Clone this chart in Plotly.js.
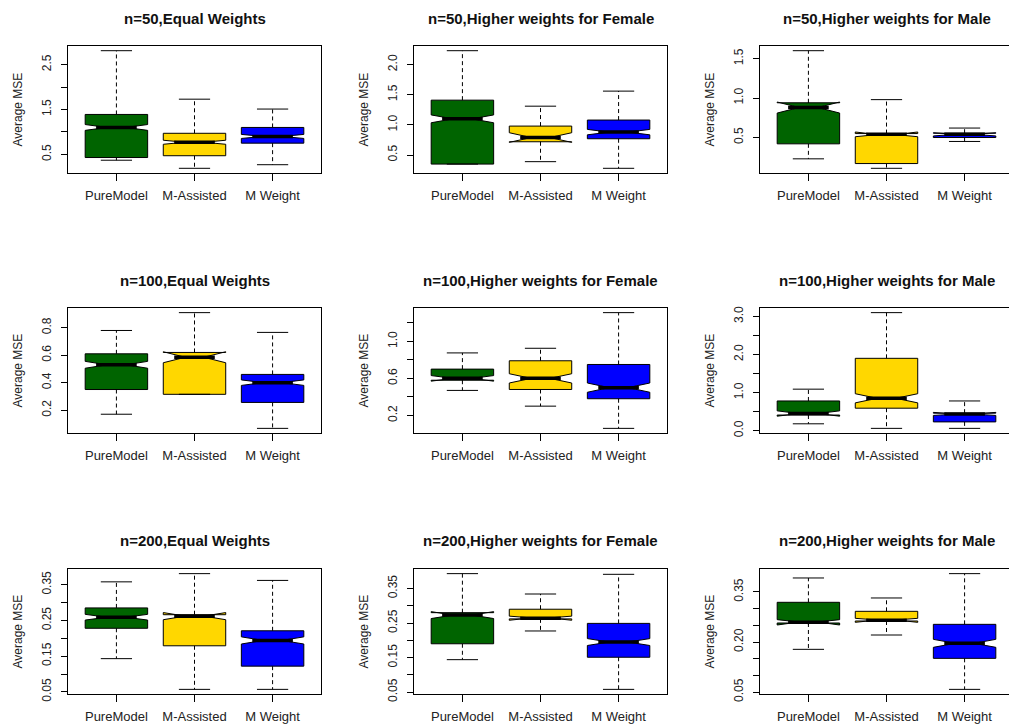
<!DOCTYPE html>
<html><head><meta charset="utf-8">
<script src="https://cdn.plot.ly/plotly-3.0.1.min.js"></script>
<style>html,body{margin:0;padding:0;overflow:hidden;background:#fff}#chart{width:1009px;height:726px}</style>
</head><body><div id="chart"></div>
<script>
// ---- data ----
const methods = ['PureModel', 'M-Assisted', 'M Weight'];
const panelTitles = [
  'n=50,Equal Weights', 'n=50,Higher weights for Female', 'n=50,Higher weights for Male',
  'n=100,Equal Weights', 'n=100,Higher weights for Female', 'n=100,Higher weights for Male',
  'n=200,Equal Weights', 'n=200,Higher weights for Female', 'n=200,Higher weights for Male'
];
const lowerW = [
  [0.37, 0.19, 0.27], [0.35, 0.39, 0.28], [0.23, 0.11, 0.45],
  [0.17, 0.315, 0.067], [0.47, 0.30, 0.06], [0.18, 0.06, 0.06],
  [0.143, 0.057, 0.057], [0.144, 0.227, 0.058], [0.178, 0.221, 0.058]
];
const q1s = [
  [0.43, 0.47, 0.75], [0.35, 0.72, 0.77], [0.42, 0.17, 0.50],
  [0.35, 0.315, 0.256], [0.58, 0.48, 0.38], [0.41, 0.59, 0.23],
  [0.228, 0.179, 0.122], [0.190, 0.262, 0.151], [0.257, 0.263, 0.151]
];
const medians = [
  [1.10, 0.77, 0.90], [1.10, 0.79, 0.88], [0.88, 0.54, 0.54],
  [0.53, 0.585, 0.40], [0.60, 0.60, 0.50], [0.45, 0.85, 0.44],
  [0.259, 0.262, 0.194], [0.273, 0.264, 0.195], [0.259, 0.265, 0.196]
];
const q3s = [
  [1.39, 0.97, 1.10], [1.41, 0.98, 1.08], [0.94, 0.55, 0.555],
  [0.61, 0.62, 0.46], [0.70, 0.79, 0.75], [0.78, 1.90, 0.46],
  [0.285, 0.266, 0.221], [0.280, 0.290, 0.249], [0.319, 0.292, 0.253]
];
const upperW = [
  [2.81, 1.73, 1.51], [2.23, 1.31, 1.56], [1.60, 0.98, 0.62],
  [0.78, 0.91, 0.766], [0.875, 0.925, 1.31], [1.09, 3.10, 0.78],
  [0.358, 0.381, 0.362], [0.393, 0.334, 0.391], [0.392, 0.332, 0.405]
];
const notchHalf = [
  [0.065, 0.045, 0.045], [0.065, 0.08, 0.045], [0.07, 0.03, 0.02],
  [0.025, 0.04, 0.02], [0.03, 0.05, 0.05], [0.07, 0.12, 0.04],
  [0.008, 0.01, 0.01], [0.01, 0.006, 0.01], [0.008, 0.006, 0.012]
];
const yTickVals = [
  [0.5, 1.0, 1.5, 2.0, 2.5], [0.5, 1.0, 1.5, 2.0], [0.5, 1.0, 1.5],
  [0.2, 0.4, 0.6, 0.8], [0.2, 0.4, 0.6, 0.8, 1.0, 1.2], [0, 0.5, 1, 1.5, 2, 2.5, 3],
  [0.05, 0.10, 0.15, 0.20, 0.25, 0.30, 0.35], [0.05, 0.10, 0.15, 0.20, 0.25, 0.30, 0.35], [0.05, 0.10, 0.15, 0.20, 0.25, 0.30, 0.35]
];
const yTickText = [
  ['0.5', '', '1.5', '', '2.5'], ['0.5', '1.0', '1.5', '2.0'], ['0.5', '1.0', '1.5'],
  ['0.2', '0.4', '0.6', '0.8'], ['0.2', '', '0.6', '', '1.0', ''], ['0.0', '', '1.0', '', '2.0', '', '3.0'],
  ['0.05', '', '0.15', '', '0.25', '', '0.35'], ['0.05', '', '0.15', '', '0.25', '', '0.35'], ['0.05', '', '', '0.20', '', '', '0.35']
];
const yLabel = 'Average MSE';
const fills = ['#006400', '#FFD700', '#0000FF'];

// ---- layout geometry ----
const W = 1009, H = 726;
const colLeft = [68, 414, 760], plotW = 253;
const rowTop = [46, 308, 569], rowBot = [173, 433, 694];
const titleY = [18, 280, 540];
const FONT = 'Liberation Sans, Arial, Helvetica, sans-serif';
const BOXW = 0.8, STAPLE = 0.2, NOTCHW = 0.35;
const XR0 = 0.38, XR1 = 3.62;

const traces = [];
const layout = {
  width: W, height: H, margin: {l: 0, r: 0, t: 0, b: 0},
  paper_bgcolor: '#fff', plot_bgcolor: '#fff', showlegend: false,
  font: {family: FONT, size: 12, color: '#222'},
  annotations: []
};

for (let p = 0; p < 9; p++) {
  const r = Math.floor(p / 3), c = p % 3;
  const k = p === 0 ? '' : String(p + 1);
  const xa = 'x' + k, ya = 'y' + k;
  const wx = [], wy = [], cx = [], cy = [], mx = [], my = [];
  let lo = Infinity, hi = -Infinity;
  for (let i = 0; i < 3; i++) {
    const pos = i + 1;
    traces.push({
      type: 'box', x: [pos], q1: [q1s[p][i]], median: [medians[p][i]], q3: [q3s[p][i]],
      lowerfence: [q1s[p][i]], upperfence: [q3s[p][i]],
      notched: true, notchspan: [notchHalf[p][i]], notchwidth: NOTCHW,
      width: BOXW, whiskerwidth: 0, fillcolor: fills[i],
      line: {color: '#000', width: 1}, boxpoints: false,
      xaxis: xa, yaxis: ya, hoverinfo: 'skip', showlegend: false
    });
    wx.push(pos, pos, null, pos, pos, null);
    wy.push(q3s[p][i], upperW[p][i], null, q1s[p][i], lowerW[p][i], null);
    cx.push(pos - STAPLE, pos + STAPLE, null, pos - STAPLE, pos + STAPLE, null);
    cy.push(upperW[p][i], upperW[p][i], null, lowerW[p][i], lowerW[p][i], null);
    const hw = BOXW / 2 * (1 - NOTCHW);
    mx.push(pos - hw, pos + hw, null);
    my.push(medians[p][i], medians[p][i], null);
    lo = Math.min(lo, lowerW[p][i], medians[p][i] - notchHalf[p][i]);
    hi = Math.max(hi, upperW[p][i], medians[p][i] + notchHalf[p][i]);
  }
  traces.push({type: 'scatter', mode: 'lines', x: wx, y: wy, xaxis: xa, yaxis: ya,
    line: {color: '#000', width: 1, dash: '4px,3px'}, hoverinfo: 'skip', showlegend: false});
  traces.push({type: 'scatter', mode: 'lines', x: cx, y: cy, xaxis: xa, yaxis: ya,
    line: {color: '#000', width: 1}, hoverinfo: 'skip', showlegend: false});
  traces.push({type: 'scatter', mode: 'lines', x: mx, y: my, xaxis: xa, yaxis: ya,
    line: {color: '#000', width: 3.5}, hoverinfo: 'skip', showlegend: false});

  const ext = (hi - lo) * 0.04;
  // the right-hand column is cut by the page edge, as in the reference
  const visW = Math.min(plotW, W - colLeft[c]);
  const x0 = colLeft[c] / W, x1 = (colLeft[c] + visW) / W;
  const xEnd = XR0 + (XR1 - XR0) * visW / plotW;
  const cut = visW < plotW;
  const y0 = 1 - rowBot[r] / H, y1 = 1 - rowTop[r] / H;
  layout['xaxis' + k] = {
    domain: [x0, x1], anchor: ya, range: [XR0, xEnd],
    tickmode: 'array', tickvals: [1, 2, 3], ticktext: methods,
    ticks: 'outside', ticklen: 7, tickcolor: '#000', tickwidth: 1,
    showline: true, mirror: true, linecolor: '#000', linewidth: 1,
    showgrid: false, zeroline: false, ticklabelstandoff: 3,
    tickfont: {family: FONT, size: 13, color: '#222'}, fixedrange: true
  };
  layout['yaxis' + k] = {
    domain: [y0, y1], anchor: xa, range: [lo - ext, hi + ext],
    tickmode: 'array', tickvals: yTickVals[p], ticktext: yTickText[p], tickangle: -90,
    ticks: 'outside', ticklen: 6, tickcolor: '#000', tickwidth: 1,
    showline: true, mirror: !cut, linecolor: '#000', linewidth: 1,
    showgrid: false, zeroline: false, ticklabelstandoff: 5,
    tickfont: {family: FONT, size: 12, color: '#222'}, fixedrange: true
  };
  layout.annotations.push({
    xref: 'paper', yref: 'paper', x: (colLeft[c] + plotW / 2) / W, y: 1 - titleY[r] / H,
    xanchor: 'center', yanchor: 'middle', showarrow: false,
    text: '<b>' + panelTitles[p] + '</b>', font: {family: FONT, size: 15, color: '#111'}
  });
  layout.annotations.push({
    xref: 'paper', yref: 'paper', x: (colLeft[c] - 51) / W, y: 1 - (rowTop[r] + rowBot[r]) / 2 / H,
    xanchor: 'center', yanchor: 'middle', showarrow: false, textangle: -90,
    text: yLabel, font: {family: FONT, size: 12, color: '#222'}
  });
}

Plotly.newPlot('chart', traces, layout, {displayModeBar: false, staticPlot: true});
</script></body></html>
